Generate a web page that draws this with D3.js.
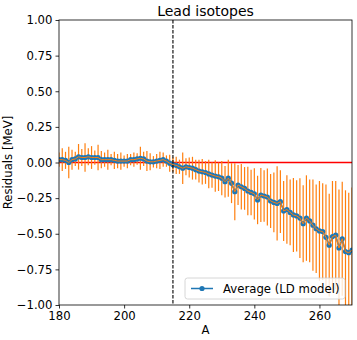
<!DOCTYPE html>
<html>
<head>
<meta charset="utf-8">
<script src="https://cdn.jsdelivr.net/npm/d3@7"></script>
<style>
  body { margin: 0; background: #fff; }
  svg { font-family: "DejaVu Sans", sans-serif; }
</style>
</head>
<body>
<svg id="svg" width="357" height="340"></svg>
<script>
// mass numbers A = 180 .. 270
const massNumbers = d3.range(180, 271);

// average residual (LD model), MeV
const residuals = [
  0.02, 0.02, 0.015, 0.00, 0.02, 0.025, 0.04, 0.035, 0.035, 0.04,
  0.035, 0.035, 0.035, 0.02, 0.02, 0.02, 0.02, 0.015, 0.01, 0.01,
  0.01, 0.01, 0.02, 0.02, 0.025, 0.03, 0.025, 0.01, 0.005, 0.005,
  0.01, 0.015, 0.02, 0.01, -0.005, -0.015, -0.02, -0.03, -0.04, -0.03,
  -0.035, -0.04, -0.05, -0.06, -0.065, -0.07, -0.08, -0.088, -0.095, -0.1,
  -0.11, -0.135, -0.11, -0.145, -0.205, -0.158, -0.17, -0.182, -0.2, -0.21,
  -0.22, -0.263, -0.228, -0.235, -0.242, -0.27, -0.28, -0.287, -0.275, -0.34,
  -0.33, -0.35, -0.368, -0.375, -0.39, -0.43, -0.39, -0.41, -0.44, -0.465,
  -0.48, -0.485, -0.525, -0.58, -0.52, -0.51, -0.6, -0.535, -0.625, -0.633,
  -0.615
];

// error bar half widths, MeV
const errors = [
  0.05, 0.08, 0.06, 0.11, 0.07, 0.05, 0.09, 0.06, 0.10, 0.06,
  0.08, 0.05, 0.09, 0.06, 0.05, 0.07, 0.04, 0.06, 0.05, 0.06,
  0.04, 0.05, 0.04, 0.05, 0.04, 0.08, 0.05, 0.07, 0.06, 0.04,
  0.05, 0.06, 0.05, 0.04, 0.06, 0.05, 0.06, 0.05, 0.11, 0.06,
  0.07, 0.08, 0.07, 0.08, 0.09, 0.08, 0.10, 0.09, 0.11, 0.10,
  0.12, 0.11, 0.13, 0.14, 0.20, 0.14, 0.16, 0.15, 0.17, 0.16,
  0.18, 0.17, 0.19, 0.18, 0.20, 0.19, 0.21, 0.26, 0.22, 0.21,
  0.24, 0.23, 0.26, 0.25, 0.28, 0.27, 0.30, 0.29, 0.32, 0.31,
  0.35, 0.34, 0.37, 0.36, 0.39, 0.38, 0.41, 0.40, 0.43, 0.42,
  0.44
];

const xTicks = [180, 200, 220, 240, 260];
const yTicks = [-1, -0.75, -0.5, -0.25, 0, 0.25, 0.5, 0.75, 1];
const cutA = 215;

const points = massNumbers.map((a, i) => ({ a: a, v: residuals[i], e: errors[i] }));

// plot box edges
const mLeft = 59, mTop = 20, mRight = 352, mBottom = 305;

const svg = d3.select("svg");

const xScale = d3.scaleLinear().domain([180, 270]).range([mLeft, mRight]);
const yScale = d3.scaleLinear().domain([-1, 1]).range([mBottom, mTop]);

svg.append("clipPath").attr("id", "plot")
  .append("rect")
  .attr("x", mLeft).attr("y", mTop)
  .attr("width", mRight - mLeft).attr("height", mBottom - mTop);

const plot = svg.append("g").attr("clip-path", "url(#plot)");

// zero reference line
plot.append("line")
  .attr("x1", xScale(180)).attr("x2", xScale(270))
  .attr("y1", yScale(0)).attr("y2", yScale(0))
  .attr("stroke", "#ff0000")
  .attr("stroke-width", 1.5);

// error bars
plot.selectAll(".err")
  .data(points)
  .enter()
  .append("line")
  .attr("class", "err")
  .attr("x1", d => xScale(d.a)).attr("x2", d => xScale(d.a))
  .attr("y1", d => yScale(d.v - d.e)).attr("y2", d => yScale(d.v + d.e))
  .attr("stroke", "#ff7f0e")
  .attr("stroke-width", 1.2);

// average line with markers
const valueline = d3.line()
  .x(d => xScale(d.a))
  .y(d => yScale(d.v));

plot.append("path")
  .datum(points)
  .attr("d", valueline)
  .attr("fill", "none")
  .attr("stroke", "#1f77b4")
  .attr("stroke-width", 1.5);

plot.selectAll(".dot")
  .data(points)
  .enter()
  .append("circle")
  .attr("class", "dot")
  .attr("cx", d => xScale(d.a))
  .attr("cy", d => yScale(d.v))
  .attr("r", 2.6)
  .attr("fill", "#1f77b4");

// errorbar connecting line drawn on top
plot.append("path")
  .datum(points)
  .attr("d", valueline)
  .attr("fill", "none")
  .attr("stroke", "#ff7f0e")
  .attr("stroke-width", 1);

// vertical dashed line
plot.append("line")
  .attr("x1", xScale(cutA)).attr("x2", xScale(cutA))
  .attr("y1", mTop).attr("y2", mBottom)
  .attr("stroke", "#000")
  .attr("stroke-width", 1.1)
  .attr("stroke-dasharray", "3.5,1.5");

// axes
const xAxis = svg.append("g")
  .attr("transform", `translate(0, ${mBottom})`)
  .call(d3.axisBottom(xScale).tickValues(xTicks).tickSize(3.5).tickPadding(3).tickFormat(d3.format("d")));

const yAxis = svg.append("g")
  .attr("transform", `translate(${mLeft}, 0)`)
  .call(d3.axisLeft(yScale).tickValues(yTicks).tickSize(3.5).tickPadding(3).tickFormat(d3.format(".2f")));

[xAxis, yAxis].forEach(g => {
  g.select(".domain").remove();
  g.selectAll("line").attr("stroke", "#000").attr("stroke-width", 0.8);
  g.selectAll("text").attr("font-size", 11.7).attr("fill", "#000")
    .attr("font-family", "DejaVu Sans, sans-serif");
});

// frame
svg.append("rect")
  .attr("x", mLeft).attr("y", mTop)
  .attr("width", mRight - mLeft).attr("height", mBottom - mTop)
  .attr("fill", "none")
  .attr("stroke", "#000")
  .attr("stroke-width", 0.8);

// legend
const legend = svg.append("g").attr("transform", "translate(185, 278)");
legend.append("rect")
  .attr("width", 160).attr("height", 21)
  .attr("rx", 2.5)
  .attr("fill", "#fff").attr("fill-opacity", 0.8)
  .attr("stroke", "#cccccc").attr("stroke-width", 0.8);
legend.append("line")
  .attr("x1", 6).attr("x2", 28).attr("y1", 10.5).attr("y2", 10.5)
  .attr("stroke", "#1f77b4").attr("stroke-width", 1.5);
legend.append("circle")
  .attr("cx", 17).attr("cy", 10.5).attr("r", 2.6)
  .attr("fill", "#1f77b4");
legend.append("text")
  .attr("x", 38).attr("y", 14.8)
  .attr("font-size", 11.7)
  .text("Average (LD model)");

// title and axis labels
svg.append("text")
  .attr("x", (mLeft + mRight) / 2).attr("y", 16)
  .attr("text-anchor", "middle")
  .attr("font-size", 14)
  .text("Lead isotopes");

svg.append("text")
  .attr("x", (mLeft + mRight) / 2).attr("y", 334)
  .attr("text-anchor", "middle")
  .attr("font-size", 11.7)
  .text("A");

svg.append("text")
  .attr("transform", `translate(12, ${(mTop + mBottom) / 2}) rotate(-90)`)
  .attr("text-anchor", "middle")
  .attr("font-size", 11.7)
  .text("Residuals [MeV]");
</script>
</body>
</html>
